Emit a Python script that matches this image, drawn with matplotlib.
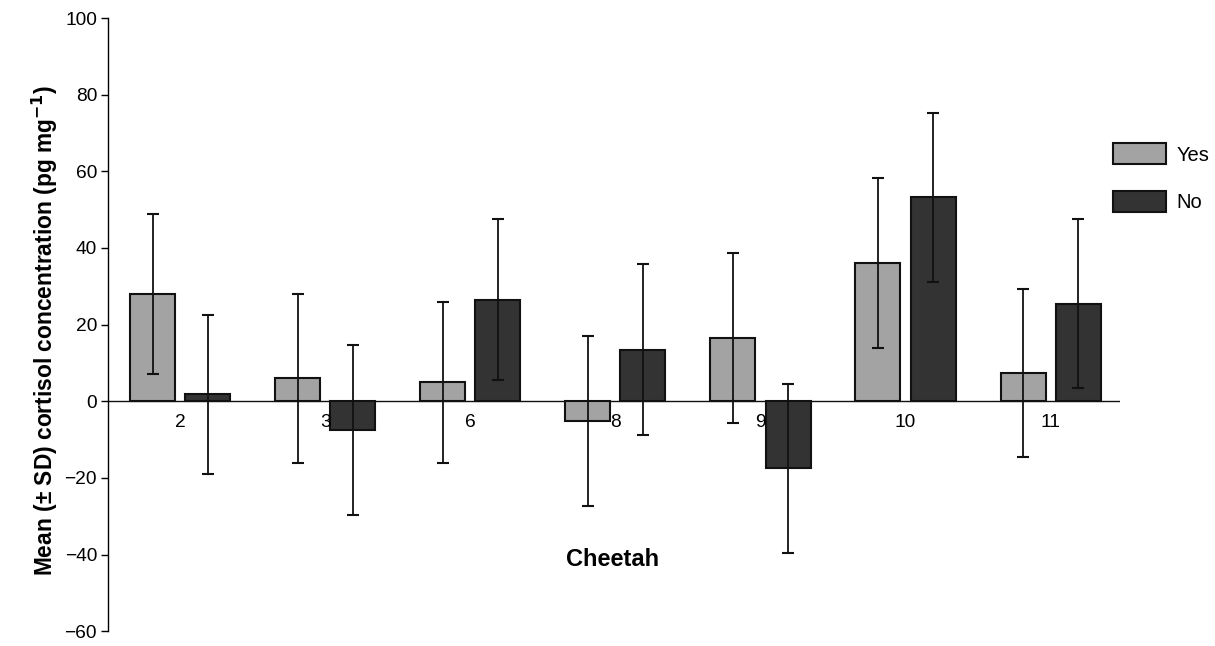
import numpy as np
import matplotlib
matplotlib.use("Agg")
import matplotlib.pyplot as plt

plt.rcParams['font.family'] = ['Liberation Sans', 'DejaVu Sans']

cheetahs = ['2', '3', '6', '8', '9', '10', '11']
yes_mean = [28.0, 6.0, 4.9, -5.1, 16.5, 36.1, 7.4]
yes_sd = [20.9, 22.1, 20.9, 22.2, 22.1, 22.1, 22.0]
no_mean = [1.8, -7.5, 26.5, 13.5, -17.5, 53.2, 25.5]
no_sd = [20.8, 22.2, 21.0, 22.2, 22.1, 22.0, 22.1]

fig = plt.figure(figsize=(12.15, 6.46), dpi=100)
ax = fig.add_axes([0.089, 0.023, 0.833, 0.949])

x = np.arange(len(cheetahs))
w = 0.31
off = 0.19
ax.bar(x - off, yes_mean, w, color='#a3a3a3', edgecolor='#111111', linewidth=1.5, label='Yes', zorder=2)
ax.bar(x + off, no_mean, w, color='#333333', edgecolor='#111111', linewidth=1.5, label='No', zorder=2)
ax.errorbar(x - off, yes_mean, yerr=yes_sd, fmt='none', ecolor='#111111', elinewidth=1.3, capsize=4.3, capthick=1.5, zorder=3)
ax.errorbar(x + off, no_mean, yerr=no_sd, fmt='none', ecolor='#111111', elinewidth=1.3, capsize=4.3, capthick=1.5, zorder=3)

ax.axhline(0, color='#111111', linewidth=1.0, zorder=1)
ax.set_xlim(-0.497, 6.48)
ax.set_ylim(-60, 100)
ax.set_yticks(range(-60, 101, 20))
ax.tick_params(axis='y', labelsize=13.8, length=5, width=1, direction='out', pad=3)
ax.set_xticks([])
for i, c in enumerate(cheetahs):
    ax.text(x[i], -3.2, c, ha='center', va='top', fontsize=13.8)

for s in ['top', 'right', 'bottom']:
    ax.spines[s].set_visible(False)
ax.spines['left'].set_linewidth(1.0)

ax.text(2.98, -41.4, 'Cheetah', ha='center', va='center', fontsize=17, fontweight='bold')
ax.set_ylabel('Mean (± SD) cortisol concentration (pg mg$^{\\mathbf{-1}}$)', fontsize=16.4, fontweight='bold')
ax.yaxis.set_label_coords(-0.048, 0.49)

fig.legend(loc='upper left', bbox_to_anchor=(0.9013, 0.8065), frameon=False, fontsize=14.5,
           handlelength=2.63, handleheight=1.25, labelspacing=1.3, handletextpad=0.5, borderpad=0.4)

fig.savefig('out.png', dpi=100)
